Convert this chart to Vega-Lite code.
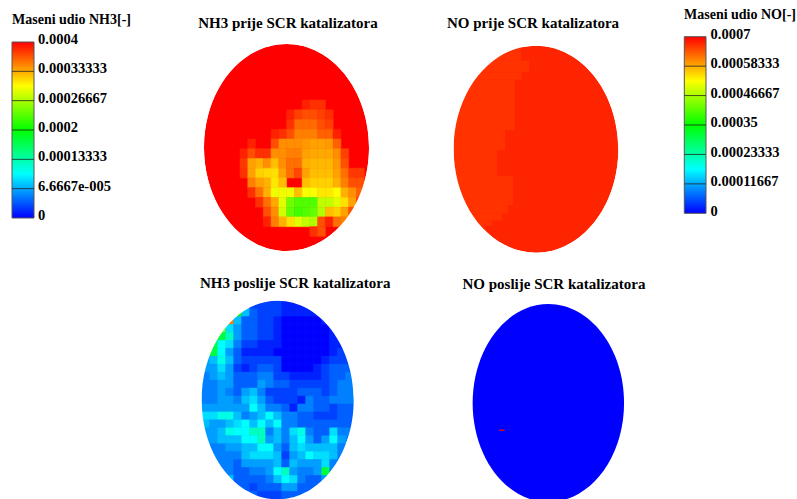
{
"$schema":"https://vega.github.io/schema/vega-lite/v6.json",
"width":797,"height":499,"padding":0,"autosize":{"type":"none"},"background":"white",
"config":{"view":{"stroke":null}},
"resolve":{"scale":{"x":"independent","y":"independent","color":"independent","stroke":"independent"}},
"datasets":{
"p1":[
{"c":8,"r":0,"v":0.000387},{"c":9,"r":0,"v":0.000381},{"c":10,"r":0,"v":0.000381},
{"c":6,"r":1,"v":0.000387},{"c":7,"r":1,"v":0.000375},{"c":8,"r":1,"v":0.000369},{"c":9,"r":1,"v":0.000369},{"c":10,"r":1,"v":0.000375},{"c":11,"r":1,"v":0.000381},
{"c":6,"r":2,"v":0.000381},{"c":7,"r":2,"v":0.000358},{"c":8,"r":2,"v":0.000358},{"c":9,"r":2,"v":0.000358},{"c":10,"r":2,"v":0.000369},{"c":11,"r":2,"v":0.000375},
{"c":4,"r":3,"v":0.000387},{"c":5,"r":3,"v":0.000381},{"c":6,"r":3,"v":0.000369},{"c":7,"r":3,"v":0.00035},{"c":8,"r":3,"v":0.00035},{"c":9,"r":3,"v":0.00035},{"c":10,"r":3,"v":0.000362},{"c":11,"r":3,"v":0.000362},{"c":12,"r":3,"v":0.000387},
{"c":1,"r":4,"v":0.000387},{"c":4,"r":4,"v":0.000369},{"c":5,"r":4,"v":0.000344},{"c":6,"r":4,"v":0.000344},{"c":7,"r":4,"v":0.000344},{"c":8,"r":4,"v":0.00034},{"c":9,"r":4,"v":0.000337},{"c":10,"r":4,"v":0.000337},{"c":11,"r":4,"v":0.00034},{"c":12,"r":4,"v":0.000362},
{"c":0,"r":5,"v":0.000387},{"c":1,"r":5,"v":0.000369},{"c":2,"r":5,"v":0.000381},{"c":3,"r":5,"v":0.000381},{"c":4,"r":5,"v":0.000344},{"c":5,"r":5,"v":0.000344},{"c":6,"r":5,"v":0.00035},{"c":7,"r":5,"v":0.00035},{"c":8,"r":5,"v":0.000337},{"c":9,"r":5,"v":0.000334},{"c":10,"r":5,"v":0.000334},{"c":11,"r":5,"v":0.000334},{"c":12,"r":5,"v":0.000344},{"c":13,"r":5,"v":0.000375},
{"c":0,"r":6,"v":0.000378},{"c":1,"r":6,"v":0.000337},{"c":2,"r":6,"v":0.000331},{"c":3,"r":6,"v":0.000344},{"c":4,"r":6,"v":0.000325},{"c":5,"r":6,"v":0.000344},{"c":6,"r":6,"v":0.000356},{"c":7,"r":6,"v":0.000356},{"c":8,"r":6,"v":0.000331},{"c":9,"r":6,"v":0.000328},{"c":10,"r":6,"v":0.000328},{"c":11,"r":6,"v":0.000328},{"c":12,"r":6,"v":0.00034},{"c":13,"r":6,"v":0.000369},
{"c":0,"r":7,"v":0.000381},{"c":1,"r":7,"v":0.000337},{"c":2,"r":7,"v":0.000318},{"c":3,"r":7,"v":0.000315},{"c":4,"r":7,"v":0.000312},{"c":5,"r":7,"v":0.000337},{"c":6,"r":7,"v":0.000356},{"c":7,"r":7,"v":0.000372},{"c":8,"r":7,"v":0.000337},{"c":9,"r":7,"v":0.000325},{"c":10,"r":7,"v":0.000325},{"c":11,"r":7,"v":0.000325},{"c":12,"r":7,"v":0.000337},{"c":13,"r":7,"v":0.000356},{"c":14,"r":7,"v":0.000378},{"c":15,"r":7,"v":0.000378},
{"c":1,"r":8,"v":0.00035},{"c":2,"r":8,"v":0.000337},{"c":3,"r":8,"v":0.000331},{"c":4,"r":8,"v":0.000309},{"c":5,"r":8,"v":0.000325},{"c":8,"r":8,"v":0.000325},{"c":9,"r":8,"v":0.000318},{"c":10,"r":8,"v":0.000318},{"c":11,"r":8,"v":0.000318},{"c":12,"r":8,"v":0.000331},{"c":13,"r":8,"v":0.00035},{"c":14,"r":8,"v":0.000369},{"c":15,"r":8,"v":0.000369},
{"c":1,"r":9,"v":0.000381},{"c":2,"r":9,"v":0.000356},{"c":3,"r":9,"v":0.000331},{"c":4,"r":9,"v":0.000294},{"c":5,"r":9,"v":0.000294},{"c":6,"r":9,"v":0.000294},{"c":7,"r":9,"v":0.000325},{"c":8,"r":9,"v":0.000297},{"c":9,"r":9,"v":0.000297},{"c":10,"r":9,"v":0.000309},{"c":11,"r":9,"v":0.000309},{"c":12,"r":9,"v":0.0003},{"c":13,"r":9,"v":0.000331},{"c":14,"r":9,"v":0.000344},{"c":15,"r":9,"v":0.000362},
{"c":2,"r":10,"v":0.000381},{"c":3,"r":10,"v":0.000356},{"c":4,"r":10,"v":0.000334},{"c":5,"r":10,"v":0.000288},{"c":6,"r":10,"v":0.000244},{"c":7,"r":10,"v":0.000231},{"c":8,"r":10,"v":0.000231},{"c":9,"r":10,"v":0.000231},{"c":10,"r":10,"v":0.000275},{"c":11,"r":10,"v":0.000275},{"c":12,"r":10,"v":0.000288},{"c":13,"r":10,"v":0.000312},{"c":14,"r":10,"v":0.000337},{"c":15,"r":10,"v":0.000375},
{"c":3,"r":11,"v":0.000369},{"c":4,"r":11,"v":0.000344},{"c":5,"r":11,"v":0.000282},{"c":6,"r":11,"v":0.000238},{"c":7,"r":11,"v":0.000225},{"c":8,"r":11,"v":0.000231},{"c":9,"r":11,"v":0.000238},{"c":10,"r":11,"v":0.000269},{"c":11,"r":11,"v":0.000325},{"c":12,"r":11,"v":0.000318},{"c":13,"r":11,"v":0.000337},{"c":14,"r":11,"v":0.000369},
{"c":3,"r":12,"v":0.000387},{"c":4,"r":12,"v":0.00035},{"c":5,"r":12,"v":0.000331},{"c":6,"r":12,"v":0.000312},{"c":7,"r":12,"v":0.000288},{"c":8,"r":12,"v":0.000275},{"c":9,"r":12,"v":0.000269},{"c":10,"r":12,"v":0.000369},{"c":11,"r":12,"v":0.000387},{"c":12,"r":12,"v":0.000356},{"c":13,"r":12,"v":0.00035},
{"c":9,"r":13,"v":0.000381},{"c":10,"r":13,"v":0.000369}
],
"p3":[
{"c":5,"r":0,"v":3.75e-5},{"c":6,"r":0,"v":2.5e-5},{"c":7,"r":0,"v":2.5e-5},{"c":8,"r":0,"v":2.5e-5},{"c":9,"r":0,"v":2.5e-5},{"c":10,"r":0,"v":1.25e-5},{"c":11,"r":0,"v":1.25e-5},{"c":12,"r":0,"v":1.25e-5},{"c":13,"r":0,"v":1.25e-5},
{"c":4,"r":1,"v":2e-4},{"c":5,"r":1,"v":7.5e-5},{"c":6,"r":1,"v":3.75e-5},{"c":7,"r":1,"v":2.5e-5},{"c":8,"r":1,"v":2.5e-5},{"c":9,"r":1,"v":2.5e-5},{"c":10,"r":1,"v":1.25e-5},{"c":11,"r":1,"v":1.25e-5},{"c":12,"r":1,"v":1.25e-5},{"c":13,"r":1,"v":1.25e-5},{"c":14,"r":1,"v":1.25e-5},
{"c":3,"r":2,"v":3.5e-4},{"c":4,"r":2,"v":7.5e-5},{"c":5,"r":2,"v":3.75e-5},{"c":6,"r":2,"v":3.75e-5},{"c":7,"r":2,"v":2.5e-5},{"c":8,"r":2,"v":2.5e-5},{"c":9,"r":2,"v":1.25e-5},{"c":10,"r":2,"v":0},{"c":11,"r":2,"v":0},{"c":12,"r":2,"v":0},{"c":13,"r":2,"v":0},{"c":14,"r":2,"v":0},{"c":15,"r":2,"v":1.25e-5},{"c":16,"r":2,"v":1.25e-5},
{"c":1,"r":3,"v":2e-4},{"c":2,"r":3,"v":2.5e-4},{"c":3,"r":3,"v":8.75e-5},{"c":4,"r":3,"v":6.25e-5},{"c":5,"r":3,"v":3.75e-5},{"c":6,"r":3,"v":3.75e-5},{"c":7,"r":3,"v":2.5e-5},{"c":8,"r":3,"v":2.5e-5},{"c":9,"r":3,"v":1.25e-5},{"c":10,"r":3,"v":0},{"c":11,"r":3,"v":0},{"c":12,"r":3,"v":0},{"c":13,"r":3,"v":0},{"c":14,"r":3,"v":0},{"c":15,"r":3,"v":0},{"c":16,"r":3,"v":1.25e-5},{"c":17,"r":3,"v":1.25e-5},
{"c":1,"r":4,"v":1.75e-4},{"c":2,"r":4,"v":1.75e-4},{"c":3,"r":4,"v":1.25e-4},{"c":4,"r":4,"v":6.25e-5},{"c":5,"r":4,"v":3.75e-5},{"c":6,"r":4,"v":3.75e-5},{"c":7,"r":4,"v":2.5e-5},{"c":8,"r":4,"v":2.5e-5},{"c":9,"r":4,"v":1.25e-5},{"c":10,"r":4,"v":0},{"c":11,"r":4,"v":0},{"c":12,"r":4,"v":0},{"c":13,"r":4,"v":0},{"c":14,"r":4,"v":0},{"c":15,"r":4,"v":0},{"c":16,"r":4,"v":1.25e-5},{"c":17,"r":4,"v":1.25e-5},
{"c":0,"r":5,"v":7.5e-5},{"c":1,"r":5,"v":1.75e-4},{"c":2,"r":5,"v":1e-4},{"c":3,"r":5,"v":8.75e-5},{"c":4,"r":5,"v":5e-5},{"c":5,"r":5,"v":2.5e-5},{"c":6,"r":5,"v":2.5e-5},{"c":7,"r":5,"v":1.25e-5},{"c":8,"r":5,"v":1.25e-5},{"c":9,"r":5,"v":1.25e-5},{"c":10,"r":5,"v":0},{"c":11,"r":5,"v":0},{"c":12,"r":5,"v":0},{"c":13,"r":5,"v":0},{"c":14,"r":5,"v":0},{"c":15,"r":5,"v":0},{"c":16,"r":5,"v":1.25e-5},{"c":17,"r":5,"v":1.25e-5},{"c":18,"r":5,"v":2.5e-5},
{"c":0,"r":6,"v":7.5e-5},{"c":1,"r":6,"v":1.75e-4},{"c":2,"r":6,"v":1e-4},{"c":3,"r":6,"v":6.25e-5},{"c":4,"r":6,"v":3.75e-5},{"c":5,"r":6,"v":1.25e-5},{"c":6,"r":6,"v":1.25e-5},{"c":7,"r":6,"v":1.25e-5},{"c":8,"r":6,"v":1.25e-5},{"c":9,"r":6,"v":0},{"c":10,"r":6,"v":0},{"c":11,"r":6,"v":0},{"c":12,"r":6,"v":0},{"c":13,"r":6,"v":0},{"c":14,"r":6,"v":0},{"c":15,"r":6,"v":0},{"c":16,"r":6,"v":1.25e-5},{"c":17,"r":6,"v":2.5e-5},{"c":18,"r":6,"v":2.5e-5},
{"c":0,"r":7,"v":6.25e-5},{"c":1,"r":7,"v":7.5e-5},{"c":2,"r":7,"v":1.1e-4},{"c":3,"r":7,"v":7.5e-5},{"c":4,"r":7,"v":3.75e-5},{"c":5,"r":7,"v":2.5e-5},{"c":6,"r":7,"v":2.5e-5},{"c":7,"r":7,"v":2.5e-5},{"c":8,"r":7,"v":2.5e-5},{"c":9,"r":7,"v":2.5e-5},{"c":10,"r":7,"v":0},{"c":11,"r":7,"v":0},{"c":12,"r":7,"v":0},{"c":13,"r":7,"v":0},{"c":14,"r":7,"v":0},{"c":15,"r":7,"v":1.25e-5},{"c":16,"r":7,"v":2.5e-5},{"c":17,"r":7,"v":2.5e-5},{"c":18,"r":7,"v":2.5e-5},
{"c":0,"r":8,"v":6.25e-5},{"c":1,"r":8,"v":6.25e-5},{"c":2,"r":8,"v":8.75e-5},{"c":3,"r":8,"v":6.25e-5},{"c":4,"r":8,"v":2.5e-5},{"c":5,"r":8,"v":1.25e-5},{"c":6,"r":8,"v":2.5e-5},{"c":7,"r":8,"v":3.75e-5},{"c":8,"r":8,"v":3.75e-5},{"c":9,"r":8,"v":2.5e-5},{"c":10,"r":8,"v":0},{"c":11,"r":8,"v":0},{"c":12,"r":8,"v":0},{"c":13,"r":8,"v":0},{"c":14,"r":8,"v":1.25e-5},{"c":15,"r":8,"v":2.5e-5},{"c":16,"r":8,"v":3.75e-5},{"c":17,"r":8,"v":3.75e-5},{"c":18,"r":8,"v":3.75e-5},
{"c":0,"r":9,"v":5e-5},{"c":1,"r":9,"v":6.25e-5},{"c":2,"r":9,"v":7.5e-5},{"c":3,"r":9,"v":6.25e-5},{"c":4,"r":9,"v":3.75e-5},{"c":5,"r":9,"v":3.75e-5},{"c":6,"r":9,"v":3.75e-5},{"c":7,"r":9,"v":5e-5},{"c":8,"r":9,"v":5e-5},{"c":9,"r":9,"v":2.5e-5},{"c":10,"r":9,"v":2.5e-5},{"c":11,"r":9,"v":1.25e-5},{"c":12,"r":9,"v":1.25e-5},{"c":13,"r":9,"v":1.25e-5},{"c":14,"r":9,"v":1.25e-5},{"c":15,"r":9,"v":2.5e-5},{"c":16,"r":9,"v":3.75e-5},{"c":17,"r":9,"v":3.75e-5},{"c":18,"r":9,"v":5e-5},
{"c":0,"r":10,"v":5e-5},{"c":1,"r":10,"v":5e-5},{"c":2,"r":10,"v":6.25e-5},{"c":3,"r":10,"v":6.25e-5},{"c":4,"r":10,"v":3.75e-5},{"c":5,"r":10,"v":3.75e-5},{"c":6,"r":10,"v":3.75e-5},{"c":7,"r":10,"v":6.25e-5},{"c":8,"r":10,"v":5e-5},{"c":9,"r":10,"v":3.75e-5},{"c":10,"r":10,"v":3.75e-5},{"c":11,"r":10,"v":2.5e-5},{"c":12,"r":10,"v":2.5e-5},{"c":13,"r":10,"v":2.5e-5},{"c":14,"r":10,"v":2.5e-5},{"c":15,"r":10,"v":2.5e-5},{"c":16,"r":10,"v":3.75e-5},{"c":17,"r":10,"v":5e-5},{"c":18,"r":10,"v":5e-5},
{"c":0,"r":11,"v":5e-5},{"c":1,"r":11,"v":5e-5},{"c":2,"r":11,"v":6.25e-5},{"c":3,"r":11,"v":5e-5},{"c":4,"r":11,"v":3.75e-5},{"c":5,"r":11,"v":6.25e-5},{"c":6,"r":11,"v":7.5e-5},{"c":7,"r":11,"v":5e-5},{"c":8,"r":11,"v":2.5e-5},{"c":9,"r":11,"v":2.5e-5},{"c":10,"r":11,"v":2.5e-5},{"c":11,"r":11,"v":2.5e-5},{"c":12,"r":11,"v":3.75e-5},{"c":13,"r":11,"v":3.75e-5},{"c":14,"r":11,"v":3.75e-5},{"c":15,"r":11,"v":2.5e-5},{"c":16,"r":11,"v":3.75e-5},{"c":17,"r":11,"v":5e-5},{"c":18,"r":11,"v":5e-5},
{"c":0,"r":12,"v":5e-5},{"c":1,"r":12,"v":5e-5},{"c":2,"r":12,"v":6.25e-5},{"c":3,"r":12,"v":6.25e-5},{"c":4,"r":12,"v":5e-5},{"c":5,"r":12,"v":7.5e-5},{"c":6,"r":12,"v":8.75e-5},{"c":7,"r":12,"v":6.25e-5},{"c":8,"r":12,"v":3.75e-5},{"c":9,"r":12,"v":2.5e-5},{"c":10,"r":12,"v":2.5e-5},{"c":11,"r":12,"v":2.5e-5},{"c":12,"r":12,"v":1.25e-5},{"c":13,"r":12,"v":5e-5},{"c":14,"r":12,"v":3.75e-5},{"c":15,"r":12,"v":3.75e-5},{"c":16,"r":12,"v":5e-5},{"c":17,"r":12,"v":5e-5},{"c":18,"r":12,"v":5e-5},
{"c":0,"r":13,"v":6.25e-5},{"c":1,"r":13,"v":6.25e-5},{"c":2,"r":13,"v":6.25e-5},{"c":3,"r":13,"v":6.25e-5},{"c":4,"r":13,"v":6.25e-5},{"c":5,"r":13,"v":6.25e-5},{"c":6,"r":13,"v":1e-4},{"c":7,"r":13,"v":7.5e-5},{"c":8,"r":13,"v":5e-5},{"c":9,"r":13,"v":5e-5},{"c":10,"r":13,"v":3.75e-5},{"c":11,"r":13,"v":1.25e-5},{"c":12,"r":13,"v":5e-5},{"c":13,"r":13,"v":5e-5},{"c":14,"r":13,"v":3.75e-5},{"c":15,"r":13,"v":3.75e-5},{"c":16,"r":13,"v":2.5e-5},{"c":17,"r":13,"v":3.75e-5},{"c":18,"r":13,"v":3.75e-5},
{"c":0,"r":14,"v":8.75e-5},{"c":1,"r":14,"v":8.75e-5},{"c":2,"r":14,"v":1.1e-4},{"c":3,"r":14,"v":1.1e-4},{"c":4,"r":14,"v":7.5e-5},{"c":5,"r":14,"v":5e-5},{"c":6,"r":14,"v":6.25e-5},{"c":7,"r":14,"v":7.5e-5},{"c":8,"r":14,"v":1e-4},{"c":9,"r":14,"v":7.5e-5},{"c":10,"r":14,"v":5e-5},{"c":11,"r":14,"v":5e-5},{"c":12,"r":14,"v":3.75e-5},{"c":13,"r":14,"v":3.75e-5},{"c":14,"r":14,"v":2.5e-5},{"c":15,"r":14,"v":2.5e-5},{"c":16,"r":14,"v":2.5e-5},{"c":17,"r":14,"v":3.75e-5},{"c":18,"r":14,"v":3.75e-5},
{"c":0,"r":15,"v":7.5e-5},{"c":1,"r":15,"v":6.25e-5},{"c":2,"r":15,"v":6.25e-5},{"c":3,"r":15,"v":7.5e-5},{"c":4,"r":15,"v":8.75e-5},{"c":5,"r":15,"v":1e-4},{"c":6,"r":15,"v":7.5e-5},{"c":7,"r":15,"v":1e-4},{"c":8,"r":15,"v":7.5e-5},{"c":9,"r":15,"v":1e-4},{"c":10,"r":15,"v":5e-5},{"c":11,"r":15,"v":5e-5},{"c":12,"r":15,"v":3.75e-5},{"c":13,"r":15,"v":3.75e-5},{"c":14,"r":15,"v":3.75e-5},{"c":15,"r":15,"v":3.75e-5},{"c":16,"r":15,"v":3.75e-5},{"c":17,"r":15,"v":3.75e-5},{"c":18,"r":15,"v":3.75e-5},
{"c":0,"r":16,"v":6.25e-5},{"c":1,"r":16,"v":6.25e-5},{"c":2,"r":16,"v":7.5e-5},{"c":3,"r":16,"v":1.1e-4},{"c":4,"r":16,"v":1e-4},{"c":5,"r":16,"v":1e-4},{"c":6,"r":16,"v":1.25e-4},{"c":7,"r":16,"v":1.25e-4},{"c":8,"r":16,"v":5e-5},{"c":9,"r":16,"v":7.5e-5},{"c":10,"r":16,"v":5e-5},{"c":11,"r":16,"v":8.75e-5},{"c":12,"r":16,"v":1.1e-4},{"c":13,"r":16,"v":5e-5},{"c":14,"r":16,"v":3.75e-5},{"c":15,"r":16,"v":3.75e-5},{"c":16,"r":16,"v":8.75e-5},{"c":17,"r":16,"v":5e-5},{"c":18,"r":16,"v":5e-5},
{"c":0,"r":17,"v":6.25e-5},{"c":1,"r":17,"v":6.25e-5},{"c":2,"r":17,"v":7.5e-5},{"c":3,"r":17,"v":7.5e-5},{"c":4,"r":17,"v":7.5e-5},{"c":5,"r":17,"v":1e-4},{"c":6,"r":17,"v":1e-4},{"c":7,"r":17,"v":1.25e-4},{"c":8,"r":17,"v":6.25e-5},{"c":9,"r":17,"v":7.5e-5},{"c":10,"r":17,"v":5e-5},{"c":11,"r":17,"v":7.5e-5},{"c":12,"r":17,"v":1e-4},{"c":13,"r":17,"v":6.25e-5},{"c":14,"r":17,"v":3.75e-5},{"c":15,"r":17,"v":6.25e-5},{"c":16,"r":17,"v":1e-4},{"c":17,"r":17,"v":6.25e-5},
{"c":1,"r":18,"v":5e-5},{"c":2,"r":18,"v":5e-5},{"c":3,"r":18,"v":6.25e-5},{"c":4,"r":18,"v":6.25e-5},{"c":5,"r":18,"v":7.5e-5},{"c":6,"r":18,"v":7.5e-5},{"c":7,"r":18,"v":1e-4},{"c":8,"r":18,"v":1e-4},{"c":9,"r":18,"v":6.25e-5},{"c":10,"r":18,"v":3.75e-5},{"c":11,"r":18,"v":7.5e-5},{"c":12,"r":18,"v":8.75e-5},{"c":13,"r":18,"v":7.5e-5},{"c":14,"r":18,"v":7.5e-5},{"c":15,"r":18,"v":7.5e-5},{"c":16,"r":18,"v":7.5e-5},{"c":17,"r":18,"v":5e-5},
{"c":1,"r":19,"v":5e-5},{"c":2,"r":19,"v":5e-5},{"c":3,"r":19,"v":5e-5},{"c":4,"r":19,"v":5e-5},{"c":5,"r":19,"v":7.5e-5},{"c":6,"r":19,"v":8.75e-5},{"c":7,"r":19,"v":8.75e-5},{"c":8,"r":19,"v":8.75e-5},{"c":9,"r":19,"v":7.5e-5},{"c":10,"r":19,"v":2.5e-5},{"c":11,"r":19,"v":6.25e-5},{"c":12,"r":19,"v":7.5e-5},{"c":13,"r":19,"v":1e-4},{"c":14,"r":19,"v":8.75e-5},{"c":15,"r":19,"v":8.75e-5},{"c":16,"r":19,"v":7.5e-5},{"c":17,"r":19,"v":5e-5},
{"c":2,"r":20,"v":5e-5},{"c":3,"r":20,"v":5e-5},{"c":4,"r":20,"v":3.75e-5},{"c":5,"r":20,"v":6.25e-5},{"c":6,"r":20,"v":6.25e-5},{"c":7,"r":20,"v":6.25e-5},{"c":8,"r":20,"v":6.25e-5},{"c":9,"r":20,"v":7.5e-5},{"c":10,"r":20,"v":3.75e-5},{"c":11,"r":20,"v":7.5e-5},{"c":12,"r":20,"v":6.25e-5},{"c":13,"r":20,"v":6.25e-5},{"c":14,"r":20,"v":6.25e-5},{"c":15,"r":20,"v":8.75e-5},{"c":16,"r":20,"v":5e-5},{"c":17,"r":20,"v":5e-5},
{"c":2,"r":21,"v":5e-5},{"c":3,"r":21,"v":5e-5},{"c":4,"r":21,"v":3.75e-5},{"c":5,"r":21,"v":3.75e-5},{"c":6,"r":21,"v":5e-5},{"c":7,"r":21,"v":5e-5},{"c":8,"r":21,"v":6.25e-5},{"c":9,"r":21,"v":1e-4},{"c":10,"r":21,"v":1.25e-4},{"c":11,"r":21,"v":6.25e-5},{"c":12,"r":21,"v":5e-5},{"c":13,"r":21,"v":5e-5},{"c":14,"r":21,"v":6.25e-5},{"c":15,"r":21,"v":1.75e-4},{"c":16,"r":21,"v":5e-5},
{"c":3,"r":22,"v":7.5e-5},{"c":4,"r":22,"v":3.75e-5},{"c":5,"r":22,"v":3.75e-5},{"c":6,"r":22,"v":3.75e-5},{"c":7,"r":22,"v":3.75e-5},{"c":8,"r":22,"v":5e-5},{"c":9,"r":22,"v":7.5e-5},{"c":10,"r":22,"v":1e-4},{"c":11,"r":22,"v":8.75e-5},{"c":12,"r":22,"v":5e-5},{"c":13,"r":22,"v":3.75e-5},{"c":14,"r":22,"v":3.75e-5},{"c":15,"r":22,"v":6.25e-5},
{"c":4,"r":23,"v":3.75e-5},{"c":5,"r":23,"v":3.75e-5},{"c":6,"r":23,"v":2.5e-5},{"c":7,"r":23,"v":3.75e-5},{"c":8,"r":23,"v":3.75e-5},{"c":9,"r":23,"v":3.75e-5},{"c":10,"r":23,"v":6.25e-5},{"c":11,"r":23,"v":6.25e-5},{"c":12,"r":23,"v":3.75e-5},{"c":13,"r":23,"v":3.75e-5},{"c":14,"r":23,"v":3.75e-5},
{"c":6,"r":24,"v":3.75e-5},{"c":7,"r":24,"v":2.5e-5},{"c":8,"r":24,"v":2.5e-5},{"c":9,"r":24,"v":2.5e-5},{"c":10,"r":24,"v":3.75e-5},{"c":11,"r":24,"v":3.75e-5},{"c":12,"r":24,"v":3.75e-5},{"c":13,"r":24,"v":3.75e-5},{"c":14,"r":24,"v":3.75e-5}
]
},
"layer":[
{"data":{"values":[{"u":0.5,"w":0.5,"v":0.0004}]},
 "mark":{"type":"point","filled":true,"opacity":1,"size":4,"shape":"M0 -103.5A82.5 103.5 0 1 1 0 103.5A82.5 103.5 0 1 1 0 -103.5Z"},
 "encoding":{"x":{"field":"u","type":"quantitative","axis":null,"scale":{"domain":[0,1],"range":[204,369],"nice":false,"zero":false}},"y":{"field":"w","type":"quantitative","axis":null,"scale":{"domain":[0,1],"range":[44,251],"nice":false,"zero":false}},
 "color":{"field":"v","type":"quantitative","scale":{"domain":[0,0.0001,0.0002,0.0003,0.0004],"range":["#0000ff","#00ffff","#00ff00","#ffff00","#ff0000"],"interpolate":"rgb"},
  "legend":{"title":"Maseni udio NH3[-]","orient":"none","legendX":12,"legendY":13,"type":"gradient","direction":"vertical","gradientLength":176,"gradientThickness":22,"gradientOpacity":0,"gradientStrokeWidth":0,"values":[0,0.000066667,0.00013333,0.0002,0.00026667,0.00033333,0.0004],"labelExpr":"datum.value==0?'0':datum.value<0.00007?'6.6667e-005':format(datum.value,'.8~f')","labelOverlap":false,"labelFont":"Liberation Serif","labelFontWeight":"bold","labelFontSize":14.5,"labelColor":"black","labelOffset":4,"titleFont":"Liberation Serif","titleFontWeight":"bold","titleFontSize":14,"titleColor":"black","titlePadding":15,"titleLimit":200,"encode":{"labels":{"update":{"baseline":{"value":"middle"},"dy":{"value":-2}}}}}}}},
{"data":{"name":"p1"},
 "mark":{"type":"rect","strokeWidth":0.5},
 "encoding":{"x":{"field":"c","type":"ordinal","axis":null,"scale":{"domain":[0,1,2,3,4,5,6,7,8,9,10,11,12,13,14,15,16],"range":[240,372]}},"y":{"field":"r","type":"ordinal","axis":null,"scale":{"domain":[0,1,2,3,4,5,6,7,8,9,10,11,12,13],"range":[100,236.4]}},
 "stroke":{"field":"v","type":"quantitative","legend":null,"scale":{"domain":[0,0.0001,0.0002,0.0003,0.0004],"range":["#0000ff","#00ffff","#00ff00","#ffff00","#ff0000"],"interpolate":"rgb"}},
 "color":{"field":"v","type":"quantitative","legend":null,"scale":{"domain":[0,0.0001,0.0002,0.0003,0.0004],"range":["#0000ff","#00ffff","#00ff00","#ffff00","#ff0000"],"interpolate":"rgb"}}}},
{"data":{"values":[{"u":0.5,"w":0.5}]},
 "mark":{"type":"point","filled":true,"opacity":1,"color":"white","size":4,"shape":"M-90 -114H90V114H-90ZM0 -103.5A82.5 103.5 0 1 0 0 103.5A82.5 103.5 0 1 0 0 -103.5Z"},
 "encoding":{"x":{"field":"u","type":"quantitative","axis":null,"scale":{"domain":[0,1],"range":[204,369],"nice":false,"zero":false}},"y":{"field":"w","type":"quantitative","axis":null,"scale":{"domain":[0,1],"range":[44,251],"nice":false,"zero":false}}}},
{"data":{"values":[{"u":0.5,"w":0.5,"v":0.000675}]},
 "mark":{"type":"point","filled":true,"opacity":1,"size":4,"shape":"M0 -103.5A82.3 103.5 0 1 1 0 103.5A82.3 103.5 0 1 1 0 -103.5Z"},
 "encoding":{"x":{"field":"u","type":"quantitative","axis":null,"scale":{"domain":[0,1],"range":[453.7,618.3],"nice":false,"zero":false}},"y":{"field":"w","type":"quantitative","axis":null,"scale":{"domain":[0,1],"range":[45.7,252.7],"nice":false,"zero":false}},
 "color":{"field":"v","type":"quantitative","scale":{"domain":[0,0.000175,0.00035,0.000525,0.0007],"range":["#0000ff","#00ffff","#00ff00","#ffff00","#ff0000"],"interpolate":"rgb"},
  "legend":{"title":"Maseni udio NO[-]","orient":"none","legendX":684,"legendY":8,"type":"gradient","direction":"vertical","gradientLength":176.6,"gradientThickness":22,"gradientOpacity":0,"gradientStrokeWidth":0,"values":[0,0.00011667,0.00023333,0.00035,0.00046667,0.00058333,0.0007],"labelExpr":"datum.value==0?'0':format(datum.value,'.8~f')","labelOverlap":false,"labelFont":"Liberation Serif","labelFontWeight":"bold","labelFontSize":14.5,"labelColor":"black","labelOffset":4.5,"titleFont":"Liberation Serif","titleFontWeight":"bold","titleFontSize":14,"titleColor":"black","titlePadding":15,"titleLimit":200,"encode":{"labels":{"update":{"baseline":{"value":"middle"},"dy":{"value":-2}}}}}}}},
{"data":{"values":[
 {"a":0,"b":0.409,"y0":0,"y1":0.073,"v":0.000666},{"a":0,"b":0.459,"y0":0.073,"y1":0.128,"v":0.000666},{"a":0,"b":0.415,"y0":0.128,"y1":0.165,"v":0.000666},{"a":0,"b":0.372,"y0":0.165,"y1":0.407,"v":0.000666},{"a":0,"b":0.312,"y0":0.407,"y1":0.504,"v":0.000666},{"a":0,"b":0.263,"y0":0.504,"y1":0.63,"v":0.000666},{"a":0,"b":0.36,"y0":0.63,"y1":0.77,"v":0.000666},{"a":0,"b":0.33,"y0":0.77,"y1":0.81,"v":0.000666},{"a":0,"b":0.293,"y0":0.81,"y1":0.845,"v":0.000666},{"a":0,"b":0.233,"y0":0.845,"y1":0.87,"v":0.000666},{"a":0,"b":0.19,"y0":0.87,"y1":0.9,"v":0.000666}]},
 "mark":{"type":"rect"},
 "encoding":{"x":{"field":"a","type":"quantitative","axis":null,"scale":{"domain":[0,1],"range":[453.7,618.3],"nice":false,"zero":false}},"x2":{"field":"b"},"y":{"field":"y0","type":"quantitative","axis":null,"scale":{"domain":[0,1],"range":[45.7,252.7],"nice":false,"zero":false}},"y2":{"field":"y1"},
 "color":{"field":"v","type":"quantitative","legend":null,"scale":{"domain":[0,0.000175,0.00035,0.000525,0.0007],"range":["#0000ff","#00ffff","#00ff00","#ffff00","#ff0000"],"interpolate":"rgb"}}}},
{"data":{"values":[{"u":0.5,"w":0.5}]},
 "mark":{"type":"point","filled":true,"opacity":1,"color":"white","size":4,"shape":"M-90 -112H90V112H-90ZM0 -103.5A82.3 103.5 0 1 0 0 103.5A82.3 103.5 0 1 0 0 -103.5Z"},
 "encoding":{"x":{"field":"u","type":"quantitative","axis":null,"scale":{"domain":[0,1],"range":[453.7,618.3],"nice":false,"zero":false}},"y":{"field":"w","type":"quantitative","axis":null,"scale":{"domain":[0,1],"range":[45.7,252.7],"nice":false,"zero":false}}}},
{"data":{"values":[{"u":0.5,"w":0.5,"v":0.00005}]},
 "mark":{"type":"point","filled":true,"opacity":1,"size":4,"shape":"M0 -99.3A76 99.3 0 1 1 0 99.3A76 99.3 0 1 1 0 -99.3Z"},
 "encoding":{"x":{"field":"u","type":"quantitative","axis":null,"scale":{"domain":[0,1],"range":[201.7,353.7],"nice":false,"zero":false}},"y":{"field":"w","type":"quantitative","axis":null,"scale":{"domain":[0,1],"range":[300.7,499.3],"nice":false,"zero":false}},
 "color":{"field":"v","type":"quantitative","legend":null,"scale":{"domain":[0,0.0001,0.0002,0.0003,0.0004],"range":["#0000ff","#00ffff","#00ff00","#ffff00","#ff0000"],"interpolate":"rgb"}}}},
{"data":{"name":"p3"},
 "mark":{"type":"rect","strokeWidth":0.5},
 "encoding":{"x":{"field":"c","type":"ordinal","axis":null,"scale":{"domain":[0,1,2,3,4,5,6,7,8,9,10,11,12,13,14,15,16,17,18],"range":[201.7,353.7]}},"y":{"field":"r","type":"ordinal","axis":null,"scale":{"domain":[0,1,2,3,4,5,6,7,8,9,10,11,12,13,14,15,16,17,18,19,20,21,22,23,24],"range":[300.7,499.3]}},
 "stroke":{"field":"v","type":"quantitative","legend":null,"scale":{"domain":[0,0.0001,0.0002,0.0003,0.0004],"range":["#0000ff","#00ffff","#00ff00","#ffff00","#ff0000"],"interpolate":"rgb"}},
 "color":{"field":"v","type":"quantitative","legend":null,"scale":{"domain":[0,0.0001,0.0002,0.0003,0.0004],"range":["#0000ff","#00ffff","#00ff00","#ffff00","#ff0000"],"interpolate":"rgb"}}}},
{"data":{"values":[{"u":0.5,"w":0.5}]},
 "mark":{"type":"point","filled":true,"opacity":1,"color":"white","size":4,"shape":"M-86 -108H86V108H-86ZM0 -99.3A76 99.3 0 1 0 0 99.3A76 99.3 0 1 0 0 -99.3Z"},
 "encoding":{"x":{"field":"u","type":"quantitative","axis":null,"scale":{"domain":[0,1],"range":[201.7,353.7],"nice":false,"zero":false}},"y":{"field":"w","type":"quantitative","axis":null,"scale":{"domain":[0,1],"range":[300.7,499.3],"nice":false,"zero":false}}}},
{"data":{"values":[{"u":0.5,"w":0.5,"v":0}]},
 "mark":{"type":"point","filled":true,"opacity":1,"size":4,"shape":"M0 -99A75.7 99 0 1 1 0 99A75.7 99 0 1 1 0 -99Z"},
 "encoding":{"x":{"field":"u","type":"quantitative","axis":null,"scale":{"domain":[0,1],"range":[472.7,624],"nice":false,"zero":false}},"y":{"field":"w","type":"quantitative","axis":null,"scale":{"domain":[0,1],"range":[304,502],"nice":false,"zero":false}},
 "color":{"field":"v","type":"quantitative","legend":null,"scale":{"domain":[0,0.000175,0.00035,0.000525,0.0007],"range":["#0000ff","#00ffff","#00ff00","#ffff00","#ff0000"],"interpolate":"rgb"}}}},
{"data":{"values":[{"a":0.178,"b":0.21,"y0":0.634,"y1":0.641,"v":0.0007}]},
 "mark":{"type":"rect"},
 "encoding":{"x":{"field":"a","type":"quantitative","axis":null,"scale":{"domain":[0,1],"range":[472.7,624],"nice":false,"zero":false}},"x2":{"field":"b"},"y":{"field":"y0","type":"quantitative","axis":null,"scale":{"domain":[0,1],"range":[304,502],"nice":false,"zero":false}},"y2":{"field":"y1"},
 "color":{"field":"v","type":"quantitative","legend":null,"scale":{"domain":[0,0.000175,0.00035,0.000525,0.0007],"range":["#0000ff","#00ffff","#00ff00","#ffff00","#ff0000"],"interpolate":"rgb"}}}},
{"data":{"values":[{"a":0,"b":1,"lo":0,"hi":0.0004}]},
 "mark":{"type":"rect","stroke":"#555555","strokeWidth":1,"color":{"gradient":"linear","x1":0,"y1":1,"x2":0,"y2":0,"stops":[{"offset":0,"color":"#0000ff"},{"offset":0.25,"color":"#00ffff"},{"offset":0.5,"color":"#00ff00"},{"offset":0.75,"color":"#ffff00"},{"offset":1,"color":"#ff0000"}]}},
 "encoding":{"x":{"field":"a","type":"quantitative","axis":null,"scale":{"domain":[0,1],"range":[12,34],"nice":false,"zero":false}},"x2":{"field":"b"},"y":{"field":"lo","type":"quantitative","axis":null,"scale":{"domain":[0,0.0004],"range":[218,42],"nice":false,"zero":false}},"y2":{"field":"hi"}}},
{"data":{"values":[{"a":0,"b":1,"t":0.000066667},{"a":0,"b":1,"t":0.00013333},{"a":0,"b":1,"t":0.0002},{"a":0,"b":1,"t":0.00026667},{"a":0,"b":1,"t":0.00033333}]},
 "mark":{"type":"rule","color":"#222222","strokeWidth":1,"opacity":0.8},
 "encoding":{"x":{"field":"a","type":"quantitative","axis":null,"scale":{"domain":[0,1],"range":[12,34],"nice":false,"zero":false}},"x2":{"field":"b"},"y":{"field":"t","type":"quantitative","axis":null,"scale":{"domain":[0,0.0004],"range":[218,42],"nice":false,"zero":false}}}},
{"data":{"values":[{"a":0,"b":1,"lo":0,"hi":0.0007}]},
 "mark":{"type":"rect","stroke":"#555555","strokeWidth":1,"color":{"gradient":"linear","x1":0,"y1":1,"x2":0,"y2":0,"stops":[{"offset":0,"color":"#0000ff"},{"offset":0.25,"color":"#00ffff"},{"offset":0.5,"color":"#00ff00"},{"offset":0.75,"color":"#ffff00"},{"offset":1,"color":"#ff0000"}]}},
 "encoding":{"x":{"field":"a","type":"quantitative","axis":null,"scale":{"domain":[0,1],"range":[684.3,706],"nice":false,"zero":false}},"x2":{"field":"b"},"y":{"field":"lo","type":"quantitative","axis":null,"scale":{"domain":[0,0.0007],"range":[213.3,36.7],"nice":false,"zero":false}},"y2":{"field":"hi"}}},
{"data":{"values":[{"a":0,"b":1,"t":0.00011667},{"a":0,"b":1,"t":0.00023333},{"a":0,"b":1,"t":0.00035},{"a":0,"b":1,"t":0.00046667},{"a":0,"b":1,"t":0.00058333}]},
 "mark":{"type":"rule","color":"#222222","strokeWidth":1,"opacity":0.8},
 "encoding":{"x":{"field":"a","type":"quantitative","axis":null,"scale":{"domain":[0,1],"range":[684.3,706],"nice":false,"zero":false}},"x2":{"field":"b"},"y":{"field":"t","type":"quantitative","axis":null,"scale":{"domain":[0,0.0007],"range":[213.3,36.7],"nice":false,"zero":false}}}},
{"data":{"values":[{"u":0.509,"w":-0.101,"t":"NH3 prije SCR katalizatora"}]},
 "mark":{"type":"text","font":"Liberation Serif","fontWeight":"bold","fontSize":15,"color":"black","align":"center","baseline":"middle"},
 "encoding":{"x":{"field":"u","type":"quantitative","axis":null,"scale":{"domain":[0,1],"range":[204,369],"nice":false,"zero":false}},"y":{"field":"w","type":"quantitative","axis":null,"scale":{"domain":[0,1],"range":[44,251],"nice":false,"zero":false}},"text":{"field":"t"}}},
{"data":{"values":[{"u":0.482,"w":-0.11,"t":"NO prije SCR katalizatora"}]},
 "mark":{"type":"text","font":"Liberation Serif","fontWeight":"bold","fontSize":15,"color":"black","align":"center","baseline":"middle"},
 "encoding":{"x":{"field":"u","type":"quantitative","axis":null,"scale":{"domain":[0,1],"range":[453.7,618.3],"nice":false,"zero":false}},"y":{"field":"w","type":"quantitative","axis":null,"scale":{"domain":[0,1],"range":[45.7,252.7],"nice":false,"zero":false}},"text":{"field":"t"}}},
{"data":{"values":[{"u":0.615,"w":-0.089,"t":"NH3 poslije SCR katalizatora"}]},
 "mark":{"type":"text","font":"Liberation Serif","fontWeight":"bold","fontSize":15,"color":"black","align":"center","baseline":"middle"},
 "encoding":{"x":{"field":"u","type":"quantitative","axis":null,"scale":{"domain":[0,1],"range":[201.7,353.7],"nice":false,"zero":false}},"y":{"field":"w","type":"quantitative","axis":null,"scale":{"domain":[0,1],"range":[300.7,499.3],"nice":false,"zero":false}},"text":{"field":"t"}}},
{"data":{"values":[{"u":0.537,"w":-0.101,"t":"NO poslije SCR katalizatora"}]},
 "mark":{"type":"text","font":"Liberation Serif","fontWeight":"bold","fontSize":15,"color":"black","align":"center","baseline":"middle"},
 "encoding":{"x":{"field":"u","type":"quantitative","axis":null,"scale":{"domain":[0,1],"range":[472.7,624],"nice":false,"zero":false}},"y":{"field":"w","type":"quantitative","axis":null,"scale":{"domain":[0,1],"range":[304,502],"nice":false,"zero":false}},"text":{"field":"t"}}}
]
}
